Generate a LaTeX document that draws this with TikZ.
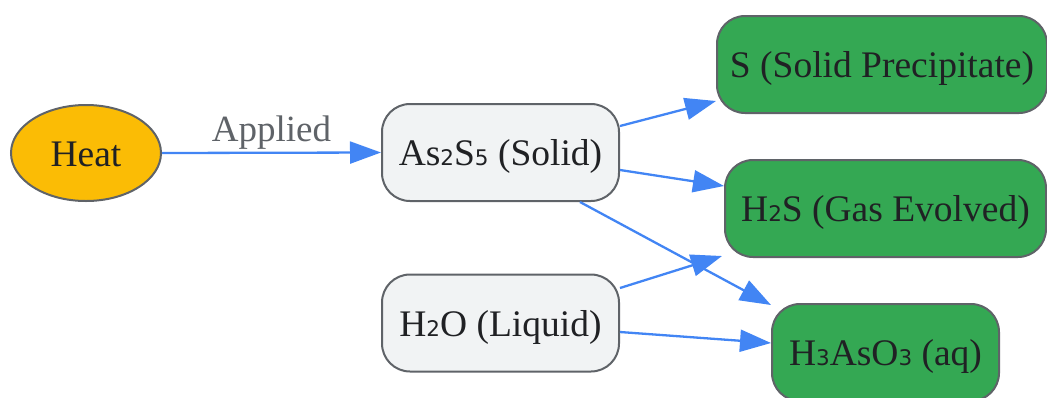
\documentclass[tikz,border=0pt]{standalone}
\usepackage{fontspec}
\setmainfont{Liberation Serif}
\newfontfamily\dejavu{DejaVu Sans}
\usetikzlibrary{shapes.geometric,arrows.meta}
\definecolor{edgeblue}{HTML}{4285F4}
\definecolor{bordergray}{HTML}{5F6368}
\definecolor{txt}{HTML}{202124}
\definecolor{heatfill}{HTML}{FBBC05}
\definecolor{infill}{HTML}{F1F3F4}
\definecolor{outfill}{HTML}{34A853}
\newcommand{\sd}[1]{{\dejavu\fontsize{21.5}{21.5}\selectfont #1}}
\tikzset{
  base/.style={draw=bordergray, line width=2pt, text=txt, inner sep=0pt,
    font=\fontsize{37.5}{40}\selectfont, text height=32pt, text depth=6pt},
  heatnode/.style={base, ellipse, fill=heatfill, minimum width=150pt, minimum height=96pt},
  inbox/.style={base, rectangle, rounded corners=28pt, fill=infill, minimum height=97pt},
  outbox/.style={base, rectangle, rounded corners=28pt, fill=outfill, minimum height=97pt},
  conn/.style={draw=edgeblue, line width=2.3pt, -{Triangle[length=31pt,width=22pt]}},
  lbl/.style={text=bordergray, font=\fontsize{37}{40}\selectfont, inner sep=0pt}
}
\begin{document}
\begin{tikzpicture}[x=1pt,y=-1pt]
\useasboundingbox (0,0) rectangle (1047,397);
\node[heatnode] (heat) at (86,153) {Heat};
\node[inbox, minimum width=237pt] (as) at (500.5,152.5) {As\sd{2}S\sd{5} (Solid)};
\node[inbox, minimum width=237pt] (h2o) at (500.5,323) {H\sd{2}O (Liquid)};
\node[outbox, minimum width=330pt] (s) at (882,64.5) {S (Solid Precipitate)};
\node[outbox, minimum width=321pt] (h2s) at (885.5,208.5) {H\sd{2}S (Gas Evolved)};
\node[outbox, minimum width=227pt] (h3) at (885.5,352.5) {H\sd{3}AsO\sd{3} (aq)};
\draw[conn] (heat.east) -- node[lbl, above=2pt] (applied) {Applied} (as.west);
\draw[conn] ([yshift=26.5pt]as.east) -- ([yshift=-36.5pt]s.west);
\draw[conn] ([yshift=-17.5pt]as.east) -- ([yshift=22.5pt]h2s.west);
\draw[conn] ([xshift=79.5pt]as.south) -- ([yshift=-2pt]h3.north west);
\draw[conn] ([yshift=35pt]h2o.east) -- ([xshift=-2pt,yshift=2pt]h2s.south west);
\draw[conn] ([yshift=-9pt]h2o.east) -- ([yshift=9.5pt]h3.west);
\end{tikzpicture}
\end{document}
